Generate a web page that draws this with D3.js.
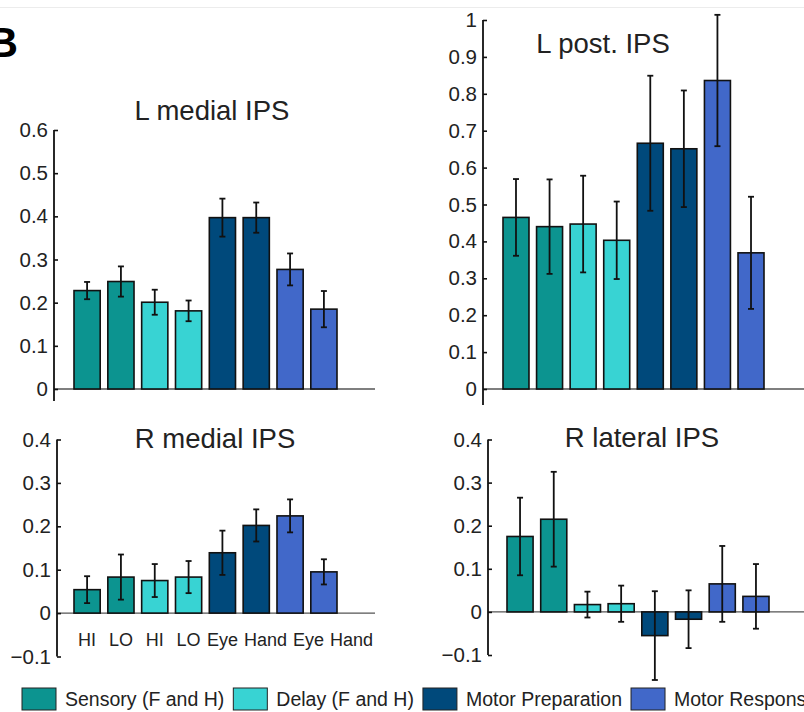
<!DOCTYPE html>
<html>
<head>
<meta charset="utf-8">
<script src="https://cdn.jsdelivr.net/npm/d3@7"></script>
<style>
  html, body { margin: 0; padding: 0; background: #fff; }
  svg { display: block; }
  text { font-family: "Liberation Sans", Arial, Helvetica, sans-serif; fill: #222; }
</style>
</head>
<body>
<svg id="chart" width="804" height="712"></svg>
<script>
// ---------- DATA ----------
const categories = ["HI", "LO", "HI", "LO", "Eye", "Hand", "Eye", "Hand"];
const barGroups = [0, 0, 1, 1, 2, 2, 3, 3];
const legendLabels = ["Sensory (F and H)", "Delay (F and H)", "Motor Preparation", "Motor Response"];
const groupColors = ["#0c9490", "#38d3d3", "#00497b", "#4168c9"];

const lMedialValues = [0.228, 0.249, 0.201, 0.181, 0.397, 0.397, 0.277, 0.185];
const lMedialErrors = [0.020, 0.035, 0.029, 0.024, 0.044, 0.035, 0.037, 0.042];

const lPostValues = [0.465, 0.440, 0.447, 0.403, 0.666, 0.651, 0.836, 0.369];
const lPostErrors = [0.104, 0.128, 0.131, 0.105, 0.183, 0.158, 0.178, 0.152];

const rMedialValues = [0.054, 0.083, 0.075, 0.083, 0.139, 0.202, 0.224, 0.095];
const rMedialErrors = [0.031, 0.052, 0.038, 0.037, 0.051, 0.037, 0.038, 0.029];

const rLateralValues = [0.175, 0.215, 0.017, 0.019, -0.055, -0.017, 0.065, 0.036];
const rLateralErrors = [0.090, 0.110, 0.030, 0.042, 0.103, 0.067, 0.088, 0.075];

const lMedialTicks = [0, 0.1, 0.2, 0.3, 0.4, 0.5, 0.6];
const lPostTicks = [0, 0.1, 0.2, 0.3, 0.4, 0.5, 0.6, 0.7, 0.8, 0.9, 1];
const rTicks = [-0.1, 0, 0.1, 0.2, 0.3, 0.4];

// ---------- DRAW ----------
const svg = d3.select("#chart");

// faint top border line
svg.append("line").attr("x1", 0).attr("x2", 804).attr("y1", 7.5).attr("y2", 7.5)
  .attr("stroke", "#ececec").attr("stroke-width", 1);

// panel letter
svg.append("text").attr("x", -13).attr("y", 57)
  .attr("font-size", 43).attr("font-weight", "bold").style("fill", "#000").text("B");

const fmt = d => d === 0 ? "0" : (d === 1 ? "1" : d3.format(".1f")(d).replace("-", "\u2212"));

function panel(cfg) {
  const g = svg.append("g");
  const y = d3.scaleLinear().domain(cfg.domain).range(cfg.yRange);
  const x = d3.scaleBand().domain(d3.range(cfg.values.length))
    .range(cfg.xRange).paddingInner(0.226).paddingOuter(0);
  const cx = i => x(i) + x.bandwidth() / 2;

  // baseline at zero
  g.append("line")
    .attr("x1", cfg.axisX).attr("x2", cfg.baseEnd)
    .attr("y1", y(0)).attr("y2", y(0))
    .attr("stroke", "#555").attr("stroke-width", 1.3);

  // bars
  g.selectAll("rect.bar").data(cfg.values).enter().append("rect")
    .attr("class", "bar")
    .attr("x", (d, i) => x(i))
    .attr("width", x.bandwidth())
    .attr("y", d => Math.min(y(d), y(0)))
    .attr("height", d => Math.abs(y(d) - y(0)))
    .attr("fill", (d, i) => groupColors[barGroups[i]])
    .attr("stroke", "#111").attr("stroke-width", 1.6);

  // error bars
  const eb = g.selectAll("g.err").data(cfg.values).enter().append("g").attr("class", "err");
  eb.append("line")
    .attr("x1", (d, i) => cx(i)).attr("x2", (d, i) => cx(i))
    .attr("y1", (d, i) => y(d + cfg.errors[i])).attr("y2", (d, i) => y(d - cfg.errors[i]))
    .attr("stroke", "#111").attr("stroke-width", 1.8);
  [1, -1].forEach(s => {
    eb.append("line")
      .attr("x1", (d, i) => cx(i) - 3).attr("x2", (d, i) => cx(i) + 3)
      .attr("y1", (d, i) => y(d + s * cfg.errors[i])).attr("y2", (d, i) => y(d + s * cfg.errors[i]))
      .attr("stroke", "#111").attr("stroke-width", 1.8);
  });

  // y axis
  const axis = d3.axisLeft(y).tickValues(cfg.ticks).tickFormat(fmt)
    .tickSizeInner(-4).tickSizeOuter(0).tickPadding(6);
  const ag = g.append("g").attr("transform", `translate(${cfg.axisX},0)`).call(axis);
  ag.select(".domain").remove();
  ag.selectAll(".tick line").attr("stroke", "#111").attr("stroke-width", 1.6);
  ag.selectAll(".tick text").attr("font-size", 20.5)
    .attr("font-family", "Liberation Sans, Arial, sans-serif").style("fill", "#222");
  g.append("line")
    .attr("x1", cfg.axisX).attr("x2", cfg.axisX)
    .attr("y1", y(cfg.domain[1])).attr("y2", cfg.axisBottom)
    .attr("stroke", "#111").attr("stroke-width", 1.8);

  // title
  g.append("text").attr("x", cfg.titleX).attr("y", cfg.titleY)
    .attr("text-anchor", "middle").attr("font-size", 27.5).text(cfg.title);

  // category labels: centred on bars, pushed right where they would collide
  if (cfg.showCats) {
    const labels = g.selectAll("text.cat").data(categories).enter().append("text")
      .attr("class", "cat")
      .attr("y", cfg.catY)
      .attr("text-anchor", "start").attr("font-size", 18)
      .text(d => d);
    let prevRight = -Infinity;
    labels.each(function (d, i) {
      const w = this.getComputedTextLength();
      let left = cx(i) - w / 2;
      if (left < prevRight + 6) left = prevRight + 6;
      d3.select(this).attr("x", left);
      prevRight = left + w;
    });
  }
}

panel({ title: "L medial IPS", titleX: 212, titleY: 120,
  values: lMedialValues, errors: lMedialErrors, ticks: lMedialTicks,
  domain: [0, 0.6], yRange: [389, 130], xRange: [74, 337],
  axisX: 54, axisBottom: 401, baseEnd: 375 });

panel({ title: "L post. IPS", titleX: 603, titleY: 53,
  values: lPostValues, errors: lPostErrors, ticks: lPostTicks,
  domain: [0, 1], yRange: [389, 20], xRange: [503, 764],
  axisX: 483, axisBottom: 405, baseEnd: 804 });

panel({ title: "R medial IPS", titleX: 215, titleY: 448,
  values: rMedialValues, errors: rMedialErrors, ticks: rTicks,
  domain: [-0.1, 0.4], yRange: [656.5, 439.5], xRange: [74, 337],
  axisX: 57, axisBottom: 656.5, baseEnd: 375, showCats: true, catY: 646 });

panel({ title: "R lateral IPS", titleX: 642, titleY: 447,
  values: rLateralValues, errors: rLateralErrors, ticks: rTicks,
  domain: [-0.1, 0.4], yRange: [655, 439.5], xRange: [507, 769],
  axisX: 488, axisBottom: 655, baseEnd: 804 });

// legend: patch, label, patch, label ... laid out left to right
const lg = svg.append("g");
let lx = 22;
legendLabels.forEach((lab, i) => {
  lg.append("rect").attr("x", lx).attr("y", 688).attr("width", 34).attr("height", 22)
    .attr("fill", groupColors[i]).attr("stroke", "#222").attr("stroke-width", 1);
  const t = lg.append("text").attr("x", lx + 43).attr("y", 706)
    .attr("font-size", 19.5).text(lab);
  lx = lx + 43 + t.node().getComputedTextLength() + 9;
});
</script>
</body>
</html>
